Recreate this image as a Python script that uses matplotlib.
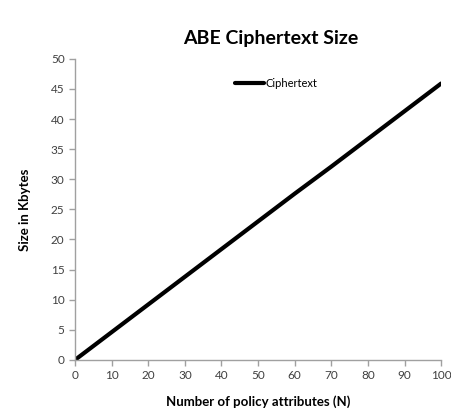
import matplotlib
matplotlib.use("Agg")
import matplotlib.pyplot as plt

n_attrs = [0, 10, 20, 30, 40, 50, 60, 70, 80, 90, 100]
ciphertext_kb = [0.0, 4.6, 9.2, 13.8, 18.4, 23.0, 27.6, 32.1, 36.7, 41.3, 45.9]
x_ticks = [0, 10, 20, 30, 40, 50, 60, 70, 80, 90, 100]
y_ticks = [0, 5, 10, 15, 20, 25, 30, 35, 40, 45, 50]

plt.rcParams['font.family'] = ['Lato', 'DejaVu Sans']

fig = plt.figure(figsize=(4.52, 4.17), dpi=100)
ax = fig.add_axes([0.166, 0.137, 0.81, 0.722])
ax.plot(n_attrs, ciphertext_kb, color='black', linewidth=3, label='Ciphertext', solid_capstyle='round')
ax.set_xlim(0, 100)
ax.set_ylim(0, 50)
ax.set_xticks(x_ticks)
ax.set_yticks(y_ticks)
for s in ['top', 'right']:
    ax.spines[s].set_visible(False)
for s in ['left', 'bottom']:
    ax.spines[s].set_color('#a0a0a0')
    ax.spines[s].set_linewidth(1)
ax.tick_params(colors='#a0a0a0', labelcolor='#404040', labelsize=8.5, length=4, width=1, direction='out')
ax.set_xlabel('Number of policy attributes (N)', fontsize=9.5, fontweight='bold', labelpad=10)
ax.set_ylabel('Size in Kbytes', fontsize=9.5, fontweight='bold', labelpad=14)
fig.text(0.6, 0.908, 'ABE Ciphertext Size', fontsize=14, fontweight='bold', ha='center', va='center')
leg = ax.legend(loc='upper left', bbox_to_anchor=(0.41, 0.97), frameon=False, fontsize=8,
                handlelength=2.6, handletextpad=0.1)
fig.savefig('out.png', dpi=100)
